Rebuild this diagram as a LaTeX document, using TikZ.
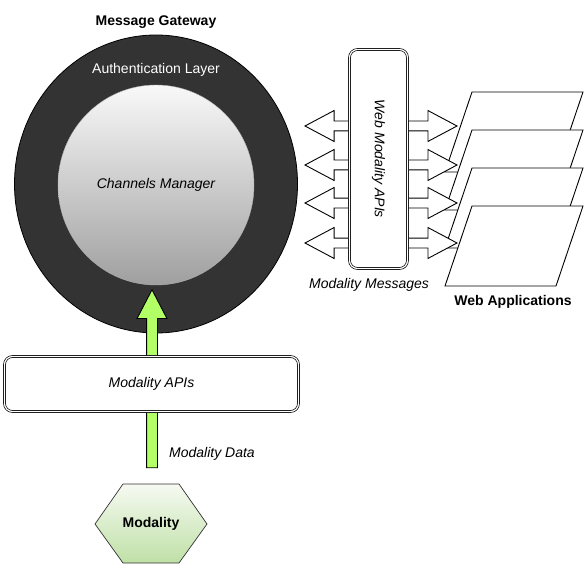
\documentclass[tikz,border=0pt]{standalone}
\usepackage{fontspec}
\setmainfont{Liberation Sans}
\usetikzlibrary{positioning,shapes.geometric,shapes.arrows}

\definecolor{gatewaygray}{HTML}{333333}
\definecolor{datagreen}{HTML}{B2FF66}
\definecolor{hextop}{HTML}{F6FAF2}
\definecolor{hexbottom}{HTML}{BFE0A6}

\newcommand{\labelfont}{\fontsize{14}{16}\selectfont}

\tikzset{
	every node/.style={font=\labelfont},
	gatewaycircle/.style={ellipse, draw=black, line width=0.8pt, fill=gatewaygray, minimum width=283pt, minimum height=298pt, inner sep=0pt},
	managercircle/.style={ellipse, draw=gray!60, top color=gray!5, bottom color=gray!75, minimum width=196pt, minimum height=200pt, inner sep=0pt, font=\labelfont\itshape},
	apibox/.style={draw=black, line width=0.7pt, double=white, double distance=1.2pt, rounded corners=8pt, fill=white, font=\labelfont\itshape},
	msgarrow/.style={double arrow, draw=black, line width=0.9pt, fill=white, minimum height=152pt, inner sep=4.5pt, double arrow head extend=10.5pt, double arrow tip angle=56},
	dataarrow/.style={single arrow, draw=black, line width=0.9pt, fill=datagreen, minimum height=178pt, inner sep=5pt, single arrow head extend=9.5pt, single arrow tip angle=55, shape border rotate=90},
	webapp/.style={draw=black, line width=0.9pt, fill=white},
	hexfill/.style={draw=black!80, line width=0.7pt, top color=hextop, bottom color=hexbottom}
}

\begin{document}
\begin{tikzpicture}[x=1pt, y=-1pt]
		\useasboundingbox (0,0) rectangle (585,569);

		\node[gatewaycircle] 							(gateway) 		at (156,184) {};
		\node[above=3pt of gateway, font=\labelfont\bfseries] 	(gatewaylabel) 	{Message Gateway};
		\node[text=white] 								(authlayer) 	at (156,70) {Authentication Layer};
		\node[managercircle] 							(manager) 		at (156,185) {Channels Manager};

		\foreach \n/\t in {A/92, B/130, C/168, D/206}
			\draw[webapp] (472,\t) coordinate (webapp\n) -- (583,\t) -- (556,\t+80) -- (445,\t+80) -- cycle;
		\node[font=\labelfont\bfseries] 				(webapplabel) 	at (513,302) {Web Applications};

		\foreach \n/\y in {A/126, B/165, C/203, D/243}
			\node[msgarrow] (msg\n) at (381,\y) {};
		\node[apibox, minimum width=58pt, minimum height=219pt] 	(webapi) 	at (378.5,159) {};
		\node[rotate=-90, font=\labelfont\itshape] 	(webapilabel) 	at (webapi.center) {Web Modality APIs};
		\node[font=\labelfont\itshape] 					(msglabel) 		at (369,285) {Modality Messages};

		\node[dataarrow] 								(data) 			at (152,384) {};
		\node[apibox, minimum width=294pt, minimum height=55pt] 	(modapi) 	at (151.5,384) {Modality APIs};
		\node[font=\labelfont\itshape] 					(datalabel) 	at (212,454) {Modality Data};

		\coordinate 									(modcenter) 	at (151,524);
		\shade[hexfill] ([xshift=-56pt]modcenter) -- ++(28,-40) -- ++(56,0) -- ++(28,40) -- ++(-28,39) -- ++(-56,0) -- cycle;
		\node[font=\labelfont\bfseries] 				(modality) 		at (modcenter) {Modality};
\end{tikzpicture}
\end{document}
